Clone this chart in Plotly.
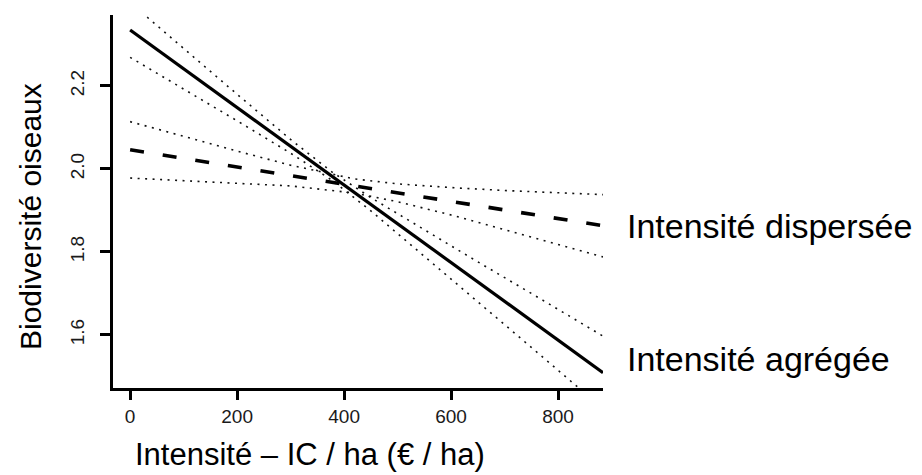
import plotly.graph_objects as go

# --- Data ---
line_x = [0, 884]
agregee_y = [2.335, 1.509]          # solid line (Intensité agrégée)
dispersee_y = [2.046, 1.863]        # dashed line (Intensité dispersée)

ci_agr_x = [0, 100, 200, 300, 377, 450, 550, 650, 750, 884]
ci_agr_upper = [2.401, 2.290, 2.180, 2.071, 1.993, 1.931, 1.853, 1.776, 1.700, 1.597]
ci_agr_lower = [2.269, 2.193, 2.116, 2.038, 1.973, 1.899, 1.790, 1.680, 1.570, 1.422]

ci_disp_x = [0, 100, 200, 300, 419, 500, 600, 700, 800, 884]
ci_disp_upper = [2.114, 2.078, 2.043, 2.009, 1.976, 1.964, 1.955, 1.948, 1.943, 1.938]
ci_disp_lower = [1.978, 1.972, 1.966, 1.959, 1.942, 1.921, 1.889, 1.854, 1.818, 1.788]

x_ticks = [0, 200, 400, 600, 800]
y_ticks = [1.6, 1.8, 2.0, 2.2]
y_tick_text = ["1.6", "1.8", "2.0", "2.2"]

x_title = "Intensité – IC / ha (€ / ha)"
y_title = "Biodiversité oiseaux"
label_disp = "Intensité dispersée"
label_agr = "Intensité agrégée"

TXTF = "Liberation Sans, Arial, Helvetica, sans-serif"
TICKF = "Liberation Sans, Arial, Helvetica, sans-serif"

dot_style = dict(color="#111", width=1.6, dash="2px,5.5px")

fig = go.Figure()
for xs, ys in [(ci_agr_x, ci_agr_upper), (ci_agr_x, ci_agr_lower),
               (ci_disp_x, ci_disp_upper), (ci_disp_x, ci_disp_lower)]:
    fig.add_trace(go.Scatter(x=xs, y=ys, mode="lines", line=dot_style,
                             showlegend=False, hoverinfo="skip"))
fig.add_trace(go.Scatter(x=line_x, y=agregee_y, mode="lines",
                         line=dict(color="black", width=3.2), showlegend=False))
fig.add_trace(go.Scatter(x=line_x, y=dispersee_y, mode="lines",
                         line=dict(color="black", width=3.6, dash="14px,19px"),
                         showlegend=False))

fig.update_layout(
    width=922, height=475,
    margin=dict(l=113, r=319, t=15, b=87),
    paper_bgcolor="white", plot_bgcolor="white",
    showlegend=False,
    xaxis=dict(range=[-32, 884], tickvals=x_ticks, showgrid=False, zeroline=False,
               showline=True, linecolor="black", linewidth=3,
               ticks="outside", ticklen=9, tickwidth=3, tickcolor="black",
               tickfont=dict(family=TICKF, size=19, color="#1a1a1a"),
               ticklabelstandoff=0),
    yaxis=dict(range=[1.472, 2.371], tickvals=y_ticks, ticktext=y_tick_text,
               showgrid=False, zeroline=False,
               showline=True, linecolor="black", linewidth=3,
               ticks="outside", ticklen=10, tickwidth=3, tickcolor="black",
               tickangle=-90,
               tickfont=dict(family=TICKF, size=19, color="#1a1a1a"),
               ticklabelstandoff=8),
)

fig.add_annotation(text=y_title, xref="paper", yref="paper", x=-0.1694, y=0.4611,
                   textangle=-90, showarrow=False, xanchor="center", yanchor="middle",
                   font=dict(family=TXTF, size=30, color="black"))
fig.add_annotation(text=x_title, xref="paper", yref="paper", x=0.402, y=-0.1783,
                   showarrow=False, xanchor="center", yanchor="middle",
                   font=dict(family=TXTF, size=31, color="black"))
fig.add_annotation(text=label_disp, xref="paper", yref="paper", x=1.0449, y=0.433,
                   showarrow=False, xanchor="left", yanchor="middle",
                   font=dict(family=TXTF, size=34, color="black"))
fig.add_annotation(text=label_agr, xref="paper", yref="paper", x=1.0449, y=0.0777,
                   showarrow=False, xanchor="left", yanchor="middle",
                   font=dict(family=TXTF, size=34, color="black"))

fig.write_html("out.html")
